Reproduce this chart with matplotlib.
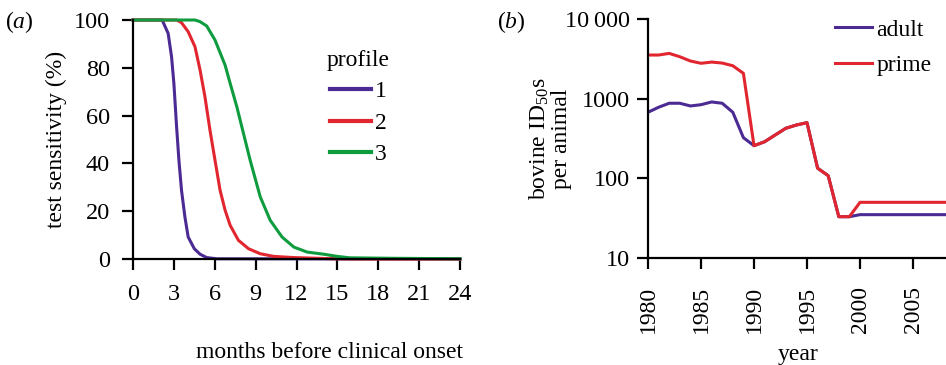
import matplotlib
matplotlib.use('Agg')
import matplotlib.pyplot as plt

plt.rcParams['font.family'] = ['Liberation Serif', 'DejaVu Serif']
plt.rcParams['mathtext.fontset'] = 'custom'
plt.rcParams['mathtext.rm'] = 'Liberation Serif'
plt.rcParams['mathtext.it'] = 'Liberation Serif:italic'

PURPLE = '#4b2a93'
RED = '#e2262f'
GREEN = '#0e9c3e'

# panel (a): test sensitivity vs months before clinical onset
p1_month = [0, 2.14, 2.58, 2.83, 3.0, 3.2, 3.37, 3.56, 3.81, 4.05, 4.5, 4.92, 5.41, 6.15, 24]
p1_sens = [100, 100, 94.4, 84.6, 73.5, 55.3, 41.3, 28.8, 17.6, 9.2, 4.3, 2.0, 0.6, 0.1, 0]

p2_month = [0, 3.2, 3.56, 4.05, 4.55, 4.92, 5.28, 5.65, 6.02, 6.39, 6.76, 7.13, 7.74,
            8.48, 9.34, 10.32, 11.8, 14.7, 16.0, 24]
p2_sens = [100, 100, 98.9, 95.1, 88.8, 79.1, 67.9, 53.9, 41.3, 28.8, 20.4, 14.1, 7.8,
           4.3, 2.2, 1.1, 0.6, 0.1, 0, 0]

p3_month = [0, 4.55, 4.92, 5.41, 6.02, 6.76, 7.13, 7.62, 8.11, 8.6, 9.34, 10.07, 10.94,
            11.8, 12.78, 14.0, 14.99, 15.9, 19.0, 24]
p3_sens = [100, 100, 99.3, 97.5, 91.6, 81.1, 73.5, 63.7, 52.5, 41.3, 26.0, 16.2, 9.2,
           5.0, 2.9, 2.0, 1.1, 0.5, 0.3, 0.1]

month_ticks = [0, 3, 6, 9, 12, 15, 18, 21, 24]
sens_ticks = [0, 20, 40, 60, 80, 100]

# panel (b): bovine ID50s per animal by year
years = list(range(1980, 2010))
adult = [675, 780, 876, 876, 810, 840, 909, 876, 675, 324,
         257, 288, 350, 425, 467, 500, 134, 108, 33, 33,
         35, 35, 35, 35, 35, 35, 35, 35, 35, 35]
prime = [3530, 3530, 3700, 3360, 2970, 2780, 2880, 2800, 2590, 2080,
         257, 288, 350, 425, 467, 500, 134, 108, 33, 33,
         50, 50, 50, 50, 50, 50, 50, 50, 50, 50]

year_ticks = [1980, 1985, 1990, 1995, 2000, 2005]
id_ticks = [10, 100, 1000, 10000]
id_labels = ['10', '100', '1000', '10\u2009000']

FS = 17.5   # tick labels
LS = 17     # axis labels, legends
W, H = 946, 365
fig = plt.figure(figsize=(W / 100, H / 100), dpi=100)

def box(l, r, t, b):
    return [l / W, 1 - b / H, (r - l) / W, (b - t) / H]

def style(ax):
    for s in ['top', 'right']:
        ax.spines[s].set_visible(False)
    for s in ['left', 'bottom']:
        ax.spines[s].set_linewidth(1.6)
    ax.tick_params(direction='out', length=8, width=1.6, labelsize=FS, pad=6)

# ---- (a)
ax1 = fig.add_axes(box(133, 460, 20, 259))
style(ax1)
ax1.plot(p1_month, p1_sens, color=PURPLE, lw=2.2, label='1')
ax1.plot(p2_month, p2_sens, color=RED, lw=2.2, label='2')
ax1.plot(p3_month, p3_sens, color=GREEN, lw=2.2, label='3')
ax1.set_xlim(0, 24)
ax1.set_ylim(0, 100)
ax1.set_xticks(month_ticks)
ax1.set_yticks(sens_ticks)
ax1.tick_params(axis='x', pad=10)
ax1.tick_params(axis='y', pad=8.5)
ax1.set_ylabel('test sensitivity (%)', fontsize=LS, labelpad=5)
for ln in ax1.lines:
    ln.set_clip_on(False)
leg1 = ax1.legend(title='profile', frameon=False, fontsize=LS, title_fontsize=LS,
                  handlelength=1.75, handletextpad=0.15, labelspacing=0.42,
                  loc='upper left', bbox_to_anchor=(327 / W, 1 - 50 / H),
                  bbox_transform=fig.transFigure, borderpad=0, borderaxespad=0)
for ln in leg1.get_lines():
    ln.set_linewidth(3)
fig.text(463 / W, 1 - 352 / H, 'months before clinical onset', fontsize=LS,
         ha='right', va='center')
fig.text(5 / W, 1 - 22 / H, '($\\it{a}$)', fontsize=LS, ha='left', va='center')

# ---- (b)
ax2 = fig.add_axes(box(648, 960, 19, 258))
style(ax2)
ax2.plot(years, adult, color=PURPLE, lw=2.2, label='adult')
ax2.plot(years, prime, color=RED, lw=2.2, label='prime')
ax2.set_yscale('log')
ax2.set_ylim(10, 10000)
ax2.set_xlim(1980, 1980 + (960 - 648) / 10.6)
ax2.set_yticks(id_ticks)
ax2.set_yticklabels(id_labels)
ax2.yaxis.set_minor_locator(matplotlib.ticker.NullLocator())
ax2.set_xticks(year_ticks)
ax2.tick_params(axis='x', labelrotation=90, pad=12, labelsize=17)
ax2.tick_params(axis='y', pad=5)
ax2.set_ylabel('bovine ID$_{50}$s\nper animal', fontsize=LS, linespacing=1.0)
ax2.yaxis.set_label_coords((572 - 648) / (960 - 648), 0.5)
ax2.set_xlabel('year', fontsize=LS, labelpad=6)
ax2.xaxis.set_label_coords((798 - 648) / (960 - 648), -0.36)
leg2 = ax2.legend(frameon=False, fontsize=LS, handlelength=1.55, handletextpad=0.2,
                  labelspacing=0.6, loc='upper left',
                  bbox_to_anchor=(835 / W, 1 - 19 / H),
                  bbox_transform=fig.transFigure, borderpad=0, borderaxespad=0)
fig.text(497 / W, 1 - 22 / H, '($\\it{b}$)', fontsize=LS, ha='left', va='center')

fig.savefig('out.png', dpi=100)
